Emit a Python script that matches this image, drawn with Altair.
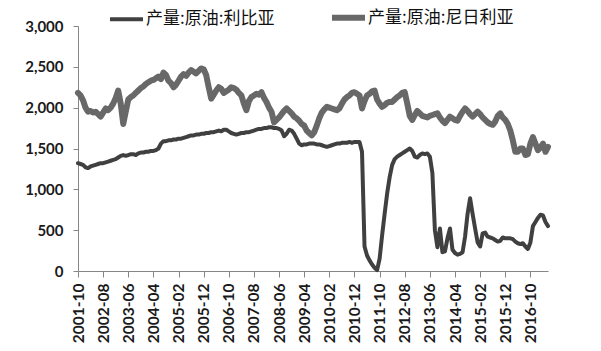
import altair as alt
import pandas as pd

# monthly categories 2001-10 .. 2017-05
months = [d.strftime("%Y-%m") for d in pd.date_range("2001-10-01", periods=188, freq="MS")]

tick_labels = ["2001-10", "2002-08", "2003-06", "2004-04", "2005-02", "2005-12",
               "2006-10", "2007-08", "2008-06", "2009-04", "2010-02", "2010-12",
               "2011-10", "2012-08", "2013-06", "2014-04", "2015-02", "2015-12",
               "2016-10"]

y_ticks = [0, 500, 1000, 1500, 2000, 2500, 3000]

series_names = ["产量:原油:利比亚", "产量:原油:尼日利亚"]

libya = [
    1320, 1310, 1300, 1270, 1260, 1280, 1290, 1300, 1310, 1320,
    1320, 1330, 1340, 1350, 1360, 1370, 1390, 1410, 1420, 1410,
    1420, 1430, 1430, 1420, 1440, 1450, 1450, 1460, 1460, 1470,
    1470, 1480, 1500, 1560, 1590, 1590, 1600, 1600, 1610, 1610,
    1620, 1620, 1630, 1640, 1650, 1660, 1660, 1670, 1670, 1680,
    1680, 1690, 1690, 1700, 1700, 1710, 1720, 1710, 1730, 1730,
    1710, 1690, 1680, 1670, 1680, 1690, 1690, 1700, 1700, 1710,
    1720, 1730, 1740, 1740, 1750, 1750, 1760, 1760, 1750, 1750,
    1740, 1720, 1650, 1680, 1730, 1720, 1680, 1620, 1560, 1540,
    1550, 1550, 1560, 1560, 1560, 1550, 1550, 1540, 1530, 1520,
    1530, 1540, 1550, 1560, 1560, 1570, 1570, 1570, 1580, 1570,
    1580, 1580, 1580, 1460, 300, 190, 130, 80, 40, 10,
    150, 437, 700, 950, 1150, 1300, 1370, 1400, 1420, 1440,
    1460, 1480, 1500, 1470, 1400, 1390, 1420, 1440, 1430, 1440,
    1400, 1200, 500, 290, 520, 230, 240, 400, 520, 260,
    220, 200, 210, 230, 420, 700, 890, 700, 520, 350,
    300, 460, 470, 420, 410, 400, 380, 360, 370, 410,
    400, 400, 400, 390, 360, 340, 330, 340, 300, 270,
    350, 550, 600, 650, 690, 680, 600, 550,
]

nigeria = [
    2180, 2150, 2090, 2000, 1950, 1960, 1940, 1950, 1920, 1890,
    1940, 1990, 1970, 2000, 2050, 2120, 2210, 2050, 1800, 1950,
    2100, 2130, 2150, 2180, 2210, 2240, 2260, 2290, 2310, 2330,
    2340, 2360, 2380, 2350, 2430, 2400, 2330, 2300, 2250, 2280,
    2330, 2380, 2410, 2390, 2430, 2460, 2440, 2420, 2450, 2480,
    2470, 2400, 2250, 2110, 2160, 2210, 2250, 2230, 2180, 2200,
    2220, 2250, 2240, 2220, 2180, 2150, 2050, 1970, 2080, 2130,
    2150, 2170, 2160, 2190, 2120, 2070, 2000, 1950, 1820, 1850,
    1880, 1920, 1960, 1990, 1960, 1930, 1890, 1870, 1840, 1800,
    1780, 1720, 1690, 1660, 1700, 1780, 1870, 1940, 1980, 2010,
    2000, 1990, 1980, 1970, 1990, 2050, 2100, 2130, 2150, 2180,
    2190, 2170, 2150, 1990, 2080, 2150, 2170, 2200, 2210, 2100,
    2050, 2010, 2030, 2060, 2070, 2070, 2100, 2130, 2150, 2180,
    2190, 2050, 1900, 1850, 1910, 1960, 1930, 1900, 1890, 1880,
    1900, 1910, 1920, 1930, 1880, 1840, 1810, 1850, 1890, 1870,
    1850, 1840, 1900, 1950, 1990, 1960, 1920, 1890, 1920, 1950,
    1920, 1880, 1850, 1820, 1800, 1790, 1830, 1900, 1930, 1880,
    1850, 1800, 1720, 1600, 1460, 1460, 1500, 1500, 1420, 1430,
    1560, 1640, 1560, 1480, 1510, 1560, 1460, 1520,
]

rows = []
for name, vals in zip(series_names, [libya, nigeria]):
    for m, v in zip(months, vals):
        rows.append({"month": m, "series": name, "value": v})
df = pd.DataFrame(rows)

axis_color = "#868686"

chart = alt.Chart(df).mark_line(strokeJoin="round", strokeCap="round").encode(
    x=alt.X("month:O", sort=months,
            scale=alt.Scale(type="point", padding=0),
            axis=alt.Axis(values=tick_labels, labelAngle=-90, title=None,
                          labelFont="Lato", labelFontSize=15.5, labelFontWeight="bold",
                          labelColor="#1a1a1a", labelPadding=6,
                          tickSize=6, tickColor=axis_color, domainColor=axis_color,
                          labelOverlap=False)),
    y=alt.Y("value:Q", scale=alt.Scale(domain=[0, 3000], nice=False),
            axis=alt.Axis(values=y_ticks, format=",d", grid=False, title=None,
                          labelFont="Lato", labelFontSize=15, labelFontWeight="bold",
                          labelColor="#1a1a1a", labelPadding=10,
                          tickSize=5, tickColor=axis_color, domainColor=axis_color)),
    color=alt.Color("series:N",
                    scale=alt.Scale(domain=series_names, range=["#404040", "#686868"]),
                    legend=alt.Legend(title=None, orient="none", legendX=29, legendY=-28,
                                      direction="horizontal", columns=2,
                                      symbolType="stroke", symbolSize=1089,
                                      symbolStrokeWidth=6, labelOffset=0,
                                      labelAlign="left",
                                      labelFont="Noto Sans CJK SC", labelFontSize=17,
                                      labelColor="#111111", columnPadding=45,
                                      padding=0)),
    strokeWidth=alt.StrokeWidth("series:N",
                                scale=alt.Scale(domain=series_names, range=[4, 6]),
                                legend=None),
).properties(
    width=470, height=245,
    padding={"left": 78, "top": 26, "right": 53, "bottom": 80},
    autosize=alt.AutoSizeParams(type="none"),
).configure_view(stroke=None)

chart.save("out.html", embed_options={"renderer": "svg", "actions": False})
